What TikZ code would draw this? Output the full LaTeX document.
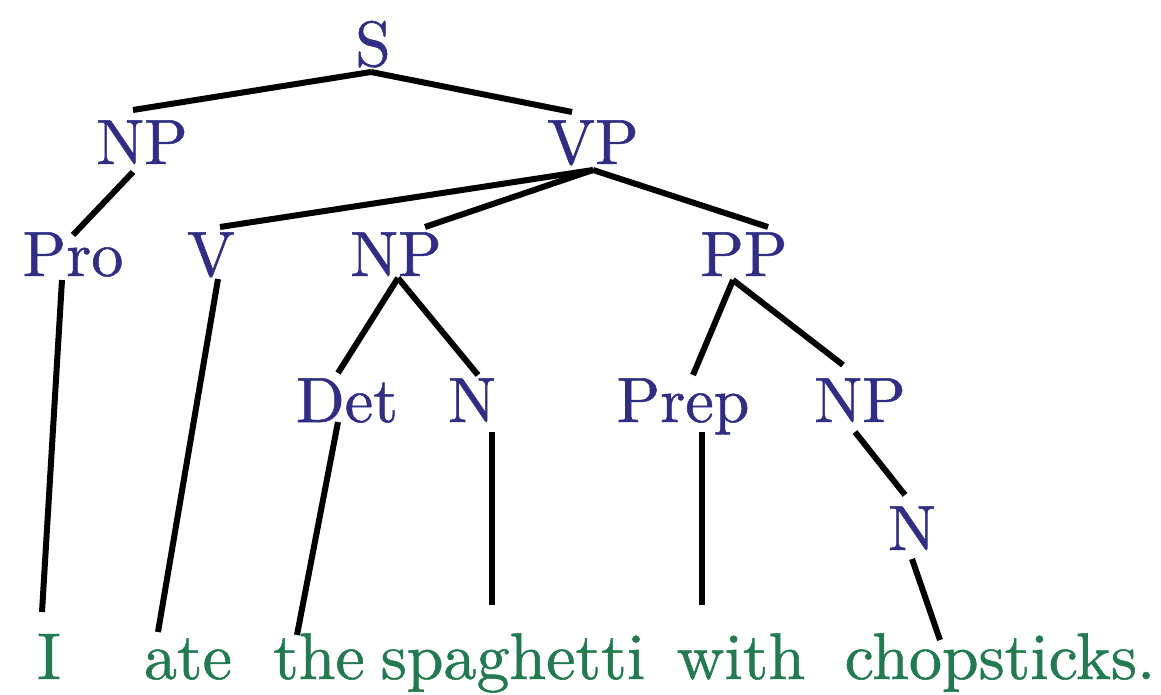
\documentclass[tikz,border=0pt]{standalone}
\usepackage{fontspec}
\newfontfamily\lmfat{lmroman10-regular.otf}[FakeBold=0.8]
\definecolor{catblue}{RGB}{48,45,132}
\definecolor{wordgreen}{RGB}{35,122,80}
\begin{document}
\begin{tikzpicture}[x=1pt,y=-1pt,
  cat/.style={anchor=base,inner sep=0pt,text=catblue,font=\lmfat\fontsize{64}{76}\selectfont},
  word/.style={anchor=base,inner sep=0pt,text=wordgreen,font=\lmfat\fontsize{66}{78}\selectfont},
  edge/.style={draw=black,line width=6pt}]
\fill[white] (0,0) rectangle (1161,695);
\useasboundingbox (0,0) rectangle (1161,695);
% categories
\node[cat] (S) at (373,66) {S};
\node[cat] (NPa) at (142,164) {NP};
\node[cat] (VP) at (593,164) {VP};
\node[cat] (Pro) at (73,276) {Pro};
\node[cat] (V) at (211,276) {V};
\node[cat] (NPb) at (396,276) {NP};
\node[cat] (PP) at (744,276) {PP};
\node[cat] (Det) at (347,422) {Det};
\node[cat] (Na) at (472,422) {N};
\node[cat] (Prep) at (683,422) {Prep};
\node[cat] (NPc) at (860,422) {NP};
\node[cat] (Nb) at (912,550) {N};
% words
\node[word] (wI) at (49,679) {I};
\node[word] (wate) at (188,679) {ate};
\node[word] (wthe) at (319,679) {the};
\node[word] (wspa) at (513,679) {spaghetti};
\node[word] (wwith) at (741,679) {with};
\node[word] (wchop) at (1000,679) {chopsticks.};
% edges
\draw[edge] ([shift={(-2,6)}]S.base) -- ([shift={(-9,-54)}]NPa.base);
\draw[edge] ([shift={(-2,6)}]S.base) -- ([shift={(-21,-52)}]VP.base);
\draw[edge] ([shift={(-9,8)}]NPa.base) -- ([shift={(0,-41)}]Pro.base);
\draw[edge] ([shift={(0,6)}]VP.base) -- ([shift={(9,-49)}]V.base);
\draw[edge] ([shift={(0,6)}]VP.base) -- ([shift={(29,-49)}]NPb.base);
\draw[edge] ([shift={(0,6)}]VP.base) -- ([shift={(24,-49)}]PP.base);
\draw[edge] ([shift={(-11,4)}]Pro.base) -- ([shift={(-7,-67)}]wI.base);
\draw[edge] ([shift={(7,3)}]V.base) -- ([shift={(-30,-47)}]wate.base);
\draw[edge] ([shift={(2,2)}]NPb.base) -- ([shift={(-9,-49)}]Det.base);
\draw[edge] ([shift={(2,2)}]NPb.base) -- ([shift={(6,-47)}]Na.base);
\draw[edge] ([shift={(-9,0)}]Det.base) -- ([shift={(-22,-44)}]wthe.base);
\draw[edge] ([shift={(20,10)}]Na.base) -- ([shift={(-21,-74)}]wspa.base);
\draw[edge] ([shift={(-11,4)}]PP.base) -- ([shift={(10,-47)}]Prep.base);
\draw[edge] ([shift={(-11,4)}]PP.base) -- ([shift={(-17,-57)}]NPc.base);
\draw[edge] ([shift={(19,10)}]Prep.base) -- ([shift={(-39,-74)}]wwith.base);
\draw[edge] ([shift={(-5,10)}]NPc.base) -- ([shift={(-7,-55)}]Nb.base);
\draw[edge] ([shift={(0,9)}]Nb.base) -- ([shift={(-60,-39)}]wchop.base);
\end{tikzpicture}
\end{document}
